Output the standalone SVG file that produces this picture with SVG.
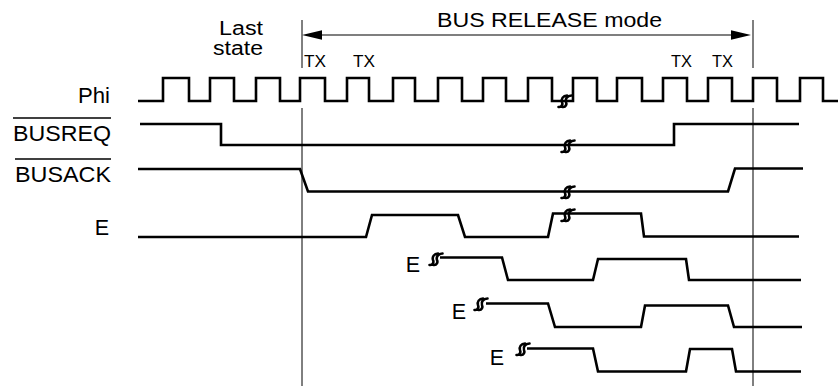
<svg xmlns="http://www.w3.org/2000/svg" xmlns:xlink="http://www.w3.org/1999/xlink" width="838" height="389" viewBox="0 0 838 389">
<style>
.sig{fill:none;stroke:#000;stroke-width:2.6;stroke-linejoin:miter;stroke-linecap:butt}
.thin{fill:none;stroke:#000;stroke-width:1}
.lbl{font-family:"Liberation Sans",Arial,sans-serif;font-size:21.5px;fill:#000}
.top{font-family:"Liberation Sans",Arial,sans-serif;font-size:19.5px;fill:#000}
.tx{font-family:"Liberation Sans",Arial,sans-serif;font-size:16px;fill:#000}
.brk{fill:none;stroke:#000;stroke-width:2.6;stroke-linecap:round}
</style>
<defs>
<g id="brk"><path class="brk" d="M-6.5,6 C-3,6.5 -2,3 -3,1 C-4,-2 -2,-5.5 2,-5.5 M-2.5,6 C1,6.5 2,3 1,1 C0,-2 2,-5.5 6.5,-5.5"/></g>
</defs>
<g id="labels">
<text class="top" x="219" y="35" textLength="44" lengthAdjust="spacingAndGlyphs">Last</text>
<text class="top" x="213" y="55" textLength="50" lengthAdjust="spacingAndGlyphs">state</text>
<text class="top" x="437" y="27" textLength="225" lengthAdjust="spacingAndGlyphs">BUS RELEASE mode</text>
<text class="tx" x="304" y="66.5" textLength="22" lengthAdjust="spacingAndGlyphs">TX</text>
<text class="tx" x="353" y="66.5" textLength="22" lengthAdjust="spacingAndGlyphs">TX</text>
<text class="tx" x="671" y="66.5" textLength="21" lengthAdjust="spacingAndGlyphs">TX</text>
<text class="tx" x="712" y="66.5" textLength="21" lengthAdjust="spacingAndGlyphs">TX</text>
<text class="lbl" x="78" y="103" textLength="32" lengthAdjust="spacingAndGlyphs">Phi</text>
<text class="lbl" x="13" y="141" textLength="98" lengthAdjust="spacingAndGlyphs">BUSREQ</text>
<line x1="13" y1="118" x2="111" y2="118" stroke="#000" stroke-width="1.6"/>
<text class="lbl" x="15" y="182" textLength="96" lengthAdjust="spacingAndGlyphs">BUSACK</text>
<line x1="15" y1="159" x2="111" y2="159" stroke="#000" stroke-width="1.6"/>
<text class="lbl" x="109" y="235" text-anchor="end">E</text>
<text class="lbl" x="420" y="272" text-anchor="end">E</text>
<text class="lbl" x="466" y="319" text-anchor="end">E</text>
<text class="lbl" x="504" y="365" text-anchor="end">E</text>
</g>
<g id="markers">
<path class="thin" d="M302,20 V68 M302,108 V386 M753,20 V68 M753,108 V386"/>
<line x1="318" y1="35" x2="736" y2="35" stroke="#000" stroke-width="1.2"/>
<polygon points="302,35 322,30.3 322,39.7" fill="#000"/>
<polygon points="751,35 731,30.3 731,39.7" fill="#000"/>
</g>
<g id="signals">
<path id="phi" class="sig" stroke-width="3" d="M138,101 H163 V78 H189 V101 H210 V78 H234 V101 H256 V78 H280 V101 H300 V78 H325 V101 H347 V78 H369 V101 H393 V78 H415 V101 H438 V78 H462 V101 H483 V78 H506 V101 H528 V78 H552 V101 H573 V78 H597 V101 H617 V78 H642 V101 H663 V78 H687 V101 H708 V78 H732 V101 H753 V78 H777 V101 H800 V78 H823 V101 H838"/>
<path id="busreq" class="sig" stroke-width="3" d="M140,124 H221 V145 H674 V124 H799"/>
<path id="busack" class="sig" d="M138,169 H300 L308,191.5 H728 L735,168.5 H803"/>
<path id="e1" class="sig" d="M138,237 H366 L372,215 H458 L465,237 H548 L553,213.5 H641 L644,236.5 H799"/>
<path id="e2" class="sig" d="M440,257.5 H502 L508,280 H593 L598,259 H686 L689,280 H801"/>
<path id="e3" class="sig" d="M486,303.5 H548 L555,327 H641 L645,305.5 H728 L734,327 H802"/>
<path id="e4" class="sig" d="M527,348.5 H593 L598,371.5 H686 L690,349 H732 L736,371.5 H801"/>
</g>
<g id="breaks">
<use xlink:href="#brk" x="565" y="101"/>
<use xlink:href="#brk" x="568" y="146"/>
<use xlink:href="#brk" x="568" y="192"/>
<use xlink:href="#brk" x="568" y="215"/>
<use xlink:href="#brk" x="436" y="259"/>
<use xlink:href="#brk" x="481" y="304"/>
<use xlink:href="#brk" x="523" y="349"/>
</g>
</svg>
